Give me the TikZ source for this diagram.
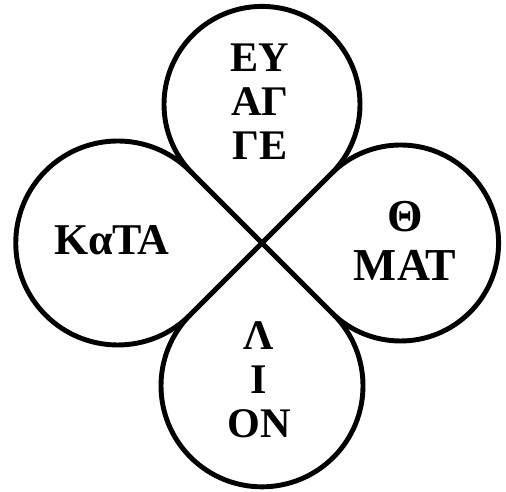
\documentclass[tikz,border=0pt]{standalone}
\usepackage{fontspec}
\setmainfont{Liberation Serif}
\usetikzlibrary{calc}
\tikzset{
  petal/.style={line width=2.8pt,line join=round},
  petal text/.style={font=\bfseries\fontsize{24}{25}\selectfont,align=center,inner sep=0pt}
}

\begin{document}
\begin{tikzpicture}[x=0.02cm,y=0.02cm]
  \useasboundingbox (0,0) rectangle (506,492);
  \coordinate (O) at (262,249);
  % four teardrops, tips meeting in O, sides along the diagonals
  \foreach \ang/\r/\name in {90/98/top,180/102/left,270/101/bottom,0/98/right}{
    \coordinate (\name) at ($(O)+(\ang:{\r*1.41421})$);
    \draw[petal] (O) -- ($(\name)+(\ang+225:\r)$)
      arc[start angle=\ang+225,end angle=\ang+495,radius=\r] -- cycle;
  }
  \node[petal text] (eu) at (260,390) {ΕΥ\\ΑΓ\\ΓΕ};
  \node[petal text,font=\bfseries\fontsize{25}{25}\selectfont] (kata) at (112,252) {ΚαΤΑ};
  \node[petal text,font=\bfseries\fontsize{26}{28}\selectfont] (mat) at (405,251) {Θ\\ΜΑΤ};
  \node[petal text] (ion) at (259,112) {Λ\\Ι\\ΟΝ};
\end{tikzpicture}
\end{document}
